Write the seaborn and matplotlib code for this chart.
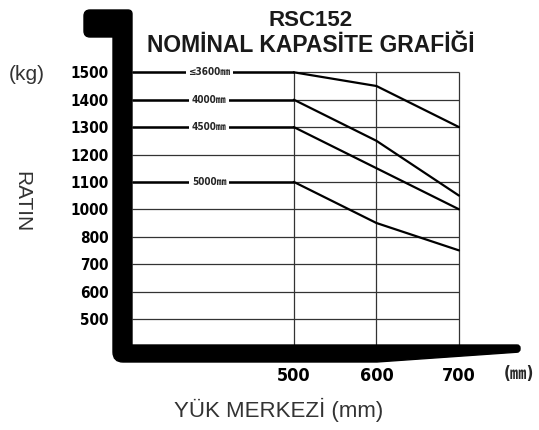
import numpy as np
import pandas as pd
import seaborn as sns
import matplotlib
matplotlib.use('Agg')
import matplotlib.pyplot as plt
from matplotlib.patches import PathPatch
from matplotlib.path import Path
from matplotlib import font_manager as fm

# load centre (mm) and capacity (kg) per mast height
load_centers = [500, 600, 700]
mast_labels = ['≤3600㎜', '4000㎜', '4500㎜', '5000㎜']
cap_3600 = [1500, 1450, 1300]
cap_4000 = [1400, 1250, 1050]
cap_4500 = [1300, 1150, 1000]
cap_5000 = [1100, 900, 750]

y_ticks = [1500, 1400, 1300, 1200, 1100, 1000, 800, 700, 600, 500]
x_ticks = [500, 600, 700]

# the chart's rows are evenly spaced although 900 is skipped
scale_kg = [400, 500, 600, 700, 800, 1000, 1100, 1200, 1300, 1400, 1500, 1600]
scale_pos = np.arange(len(scale_kg), dtype=float)


def fwd(v):
    return np.interp(v, scale_kg, scale_pos)


def inv(p):
    return np.interp(p, scale_pos, scale_kg)


def rounded_path(pts, radii):
    # closed polygon with quadratic rounding at each vertex
    n = len(pts)
    pts = [np.array(p, dtype=float) for p in pts]
    verts, codes = [], []
    for i in range(n):
        p, prev, nxt = pts[i], pts[i - 1], pts[(i + 1) % n]
        r = radii[i]
        if r == 0:
            a = b = p
        else:
            a = p + (prev - p) / np.linalg.norm(prev - p) * r
            b = p + (nxt - p) / np.linalg.norm(nxt - p) * r
        if i == 0:
            verts.append(a); codes.append(Path.MOVETO)
        else:
            verts.append(a); codes.append(Path.LINETO)
        if r:
            verts += [p, b]; codes += [Path.CURVE3, Path.CURVE3]
    verts.append(verts[0]); codes.append(Path.CLOSEPOLY)
    return verts, codes


sns.set_theme(style='white')
plt.rcParams['font.family'] = ['Liberation Sans', 'DejaVu Sans', 'Noto Sans CJK SC']

names = {f.name for f in fm.fontManager.ttflist}
narrow = 'Liberation Sans Narrow' if 'Liberation Sans Narrow' in names else 'DejaVu Sans'
narrow_fam = [narrow, 'DejaVu Sans', 'Noto Sans CJK SC']

W, H = 539, 430
fig = plt.figure(figsize=(W / 100, H / 100), dpi=100)
ax_l, ax_r, ax_t, ax_b = 132, 475.5, 58.6, 346.3
ax = fig.add_axes([ax_l / W, 1 - ax_b / H, (ax_r - ax_l) / W, (ax_b - ax_t) / H])

ax.set_yscale('function', functions=(fwd, inv))
ax.set_xlim(304, 720)
ax.set_ylim(400, 1550)
x0 = ax.get_xlim()[0]

# grid
ax.hlines(y_ticks, x0, max(x_ticks), color='#333333', lw=0.9, zorder=1)
ax.vlines(x_ticks, 400, max(y_ticks), color='#333333', lw=0.9, zorder=1)

caps = [cap_3600, cap_4000, cap_4500, cap_5000]
df = pd.DataFrame({
    'load_center': load_centers * len(caps),
    'capacity': [v for c in caps for v in c],
    'mast': [m for m in mast_labels for _ in load_centers],
})
sns.lineplot(data=df, x='load_center', y='capacity', hue='mast',
             palette=['black'] * len(caps), lw=1.6, legend=False, ax=ax, zorder=3)

for lab, c in zip(mast_labels, caps):
    ax.hlines(c[0], x0, load_centers[0], color='black', lw=1.8, zorder=3)
    ax.text(0.225, c[0], lab, transform=ax.get_yaxis_transform(),
            ha='center', va='center', fontsize=7.2, family=narrow_fam,
            weight='bold', stretch='condensed', zorder=4,
            bbox=dict(boxstyle='square,pad=0.25', fc='white', ec='none'))

for s in ax.spines.values():
    s.set_visible(False)

ax.set_yticks(y_ticks)
ax.set_yticklabels([str(v) for v in y_ticks])
ax.set_xticks(x_ticks)
ax.set_xticklabels([str(v) for v in x_ticks])
ax.minorticks_off()
ax.tick_params(axis='y', length=0, pad=17)
ax.tick_params(axis='x', length=0, pad=15)
for t in ax.get_yticklabels():
    t.set_family(narrow_fam)
    t.set_weight('bold')
    t.set_stretch('condensed')
    t.set_fontsize(11)
    t.set_color('black')
for t in ax.get_xticklabels():
    t.set_family(narrow_fam)
    t.set_weight('bold')
    t.set_stretch('condensed')
    t.set_fontsize(13)
    t.set_color('black')
ax.set_xlabel('')
ax.set_ylabel('')

# fork outline
fork_px = [(84, 10), (132, 10), (132, 345), (520, 345), (520, 352),
           (377, 362), (113, 362), (113, 37), (84, 37)]
fork_r = [6, 4, 0, 3, 3, 0, 10, 0, 6]
verts, codes = rounded_path([(x / W * W, (1 - y / H) * H) for x, y in fork_px], fork_r)
verts = [(vx / W, vy / H) for vx, vy in verts]
fork = PathPatch(Path(verts, codes), transform=fig.transFigure,
                 fc='black', ec='black', lw=1, zorder=5)
fig.add_artist(fork)

fig.text(311 / W, 1 - 26 / H, 'RSC152', ha='center', va='baseline',
         fontsize=16, weight='bold', color='#1a1a1a')
fig.text(310.5 / W, 1 - 52 / H, 'NOMİNAL KAPASİTE GRAFİĞİ', ha='center',
         va='baseline', fontsize=16.5, weight='bold', color='#1a1a1a')
fig.text(278.5 / W, 1 - 417 / H, 'YÜK MERKEZİ (mm)', ha='center',
         va='baseline', fontsize=16, color='#333333')
fig.text(22 / W, 1 - 202 / H, 'RATIN', rotation=270, ha='center',
         va='center', fontsize=15, color='#333333')
fig.text(27 / W, 1 - 75 / H, '(kg)', ha='center', va='center',
         fontsize=15, color='#333333')
fig.text(519 / W, 1 - 374 / H, '(㎜)', ha='center', va='center',
         fontsize=12, family=narrow_fam, weight='bold', stretch='condensed')

fig.savefig('out.png', dpi=100)
